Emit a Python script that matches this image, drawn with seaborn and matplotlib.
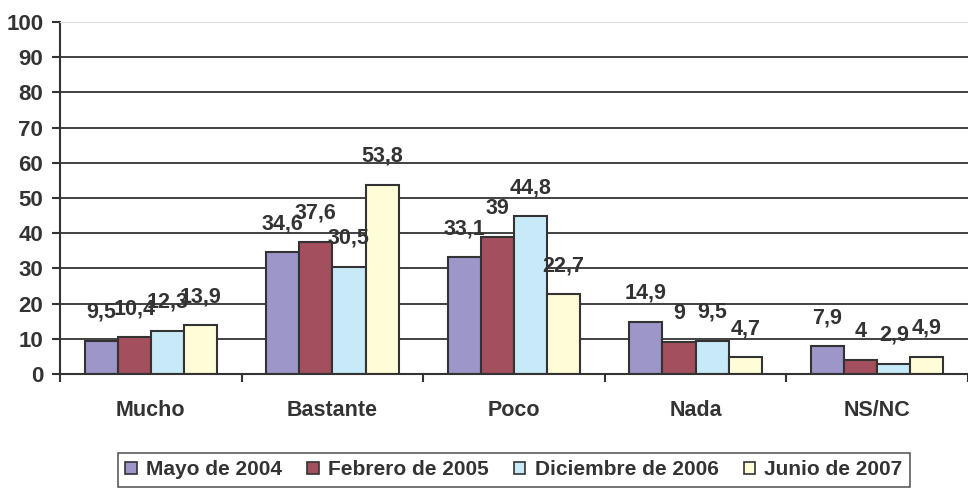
import pandas as pd
import matplotlib
matplotlib.use("Agg")
import matplotlib.pyplot as plt
import seaborn as sns
from matplotlib.ticker import FixedLocator

# datos
categorias = ["Mucho", "Bastante", "Poco", "Nada", "NS/NC"]
series = ["Mayo de 2004", "Febrero de 2005", "Diciembre de 2006", "Junio de 2007"]
mayo_2004 = [9.5, 34.6, 33.1, 14.9, 7.9]
febrero_2005 = [10.4, 37.6, 39, 9, 4]
diciembre_2006 = [12.3, 30.5, 44.8, 9.5, 2.9]
junio_2007 = [13.9, 53.8, 22.7, 4.7, 4.9]
colores = ["#9C96C9", "#A44F5E", "#C8EAF8", "#FFFCD8"]

valores = [mayo_2004, febrero_2005, diciembre_2006, junio_2007]
df = pd.DataFrame({
    "categoria": [c for _ in series for c in categorias],
    "serie": [s for s in series for _ in categorias],
    "valor": [v for vals in valores for v in vals],
})

sns.set_style("white")
plt.rcParams["font.family"] = ["Liberation Sans", "DejaVu Sans"]
plt.rcParams["font.weight"] = "bold"
gris = "#333333"

fig = plt.figure(figsize=(9.68, 4.88), dpi=100)
ax = fig.add_axes([0.062, 0.2336, 0.938, 0.7214])

sns.barplot(data=df, x="categoria", y="valor", hue="serie", order=categorias,
            hue_order=series, palette=colores, width=0.73, gap=0,
            edgecolor=gris, linewidth=1.5, saturation=1, legend=False, ax=ax)

# etiquetas de datos con coma decimal
for cont, vals in zip(ax.containers, valores):
    etiquetas = [f"{v:g}".replace(".", ",") for v in vals]
    ax.bar_label(cont, labels=etiquetas, padding=13, fontsize=15.5,
                 fontweight="bold", color=gris)

ax.set_ylim(0, 100)
ax.set_xlim(-0.5, len(categorias) - 0.5)
ax.set_yticks(range(0, 101, 10))
ax.set_xlabel("")
ax.set_ylabel("")

ax.yaxis.grid(True, color=gris, linewidth=1.3)
ax.get_ygridlines()[-1].set_color("#dddddd")
ax.set_axisbelow(True)

ax.spines["right"].set_visible(False)
ax.spines["top"].set_color("#dddddd")
ax.spines["left"].set_color(gris)
ax.spines["bottom"].set_color(gris)
ax.spines["left"].set_linewidth(1.5)
ax.spines["bottom"].set_linewidth(1.5)

ax.tick_params(axis="y", length=6, width=1.5, color=gris, pad=6,
               labelsize=16, labelcolor=gris, left=True)
ax.tick_params(axis="x", which="major", length=0, pad=19,
               labelsize=15.5, labelcolor=gris)
ax.xaxis.set_minor_locator(FixedLocator([i - 0.5 for i in range(len(categorias) + 1)]))
ax.tick_params(axis="x", which="minor", length=6, width=1.5, color=gris, bottom=True)
for t in ax.get_xticklabels() + ax.get_yticklabels():
    t.set_fontweight("bold")

# leyenda abajo con recuadro
handles = [plt.Rectangle((0, 0), 1, 1, facecolor=c, edgecolor=gris, linewidth=1.2)
           for c in colores]
leg = fig.legend(handles, series, loc="center", bbox_to_anchor=(0.531, 0.037),
                 ncol=4, frameon=True, fancybox=False,
                 handlelength=0.55, handleheight=0.55, handletextpad=0.45,
                 columnspacing=1.2, borderpad=0.35, prop={"weight": "bold", "size": 15})
leg.get_frame().set_edgecolor(gris)
leg.get_frame().set_linewidth(1.2)
for t in leg.get_texts():
    t.set_color(gris)

fig.savefig("out.png", dpi=100)
